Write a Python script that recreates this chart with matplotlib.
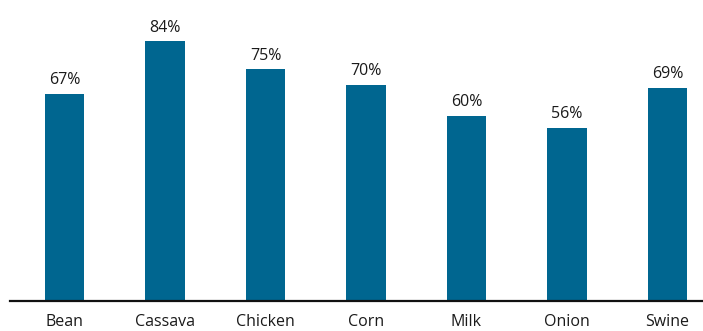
import matplotlib.pyplot as plt

cats = ['Bean', 'Cassava', 'Chicken', 'Corn', 'Milk', 'Onion', 'Swine']
vals = [67, 84, 75, 70, 60, 56, 69]

plt.rcParams['font.family'] = ['Open Sans', 'DejaVu Sans']

fig = plt.figure(figsize=(7.03, 3.31), dpi=100)
ax = fig.add_axes([10/703, 30/331, 693/703, 293.6/331])

x = range(len(cats))
ax.bar(x, vals, width=0.39, color='#006690')
for xi, v in zip(x, vals):
    ax.text(xi, v + 1.8, f'{v}%', ha='center', va='bottom', fontsize=11.5, color='#1a1a1a')

ax.set_xlim(-0.542, 6.354)
ax.set_ylim(0, 95)
ax.set_xticks(list(x))
ax.set_xticklabels(cats, fontsize=11.5, color='#1a1a1a')
ax.tick_params(axis='x', length=0, pad=9)
ax.set_yticks([])
for s in ['top', 'right', 'left']:
    ax.spines[s].set_visible(False)
ax.spines['bottom'].set_linewidth(1.6)
ax.spines['bottom'].set_color('#111111')

fig.savefig('out.png', dpi=100)
